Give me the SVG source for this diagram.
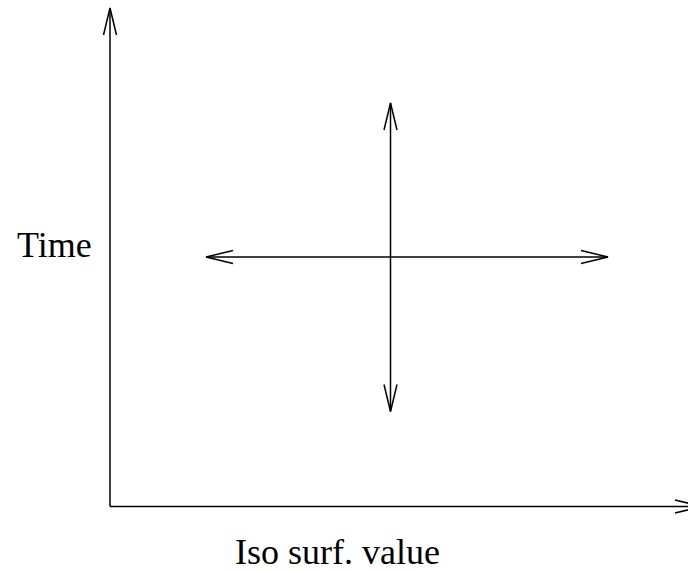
<svg xmlns="http://www.w3.org/2000/svg" width="688" height="572" viewBox="0 0 688 572">
<defs>
<style>
.ln{stroke:#000;stroke-width:1.5;fill:none}
.lbl{font-family:"Liberation Serif","Times New Roman",serif;font-size:36px;fill:#000}
</style>
<marker id="ah" markerUnits="userSpaceOnUse" markerWidth="40" markerHeight="20" viewBox="-30 -10 40 20" refX="0" refY="0" orient="auto-start-reverse" overflow="visible">
<path d="M-27,-6.5 L0,0 L-27,6.5" fill="none" stroke="#000" stroke-width="1.5"/>
</marker>
</defs>
<rect width="688" height="572" fill="#fff"/>
<g id="connectors">
<path id="time-axis" class="ln" d="M110,506.5 L110,8" marker-end="url(#ah)"/>
<path id="value-axis" class="ln" d="M110,506.5 L702,506.5" marker-end="url(#ah)"/>
<path id="h-arrow" class="ln" d="M206,257 L608,257" marker-start="url(#ah)" marker-end="url(#ah)"/>
<path id="v-arrow" class="ln" d="M390.5,103 L390.5,411.5" marker-start="url(#ah)" marker-end="url(#ah)"/>
</g>
<g id="label-time"><text class="lbl" x="17" y="257">Time</text></g>
<g id="label-value"><text class="lbl" x="235" y="564">Iso surf. value</text></g>
</svg>
